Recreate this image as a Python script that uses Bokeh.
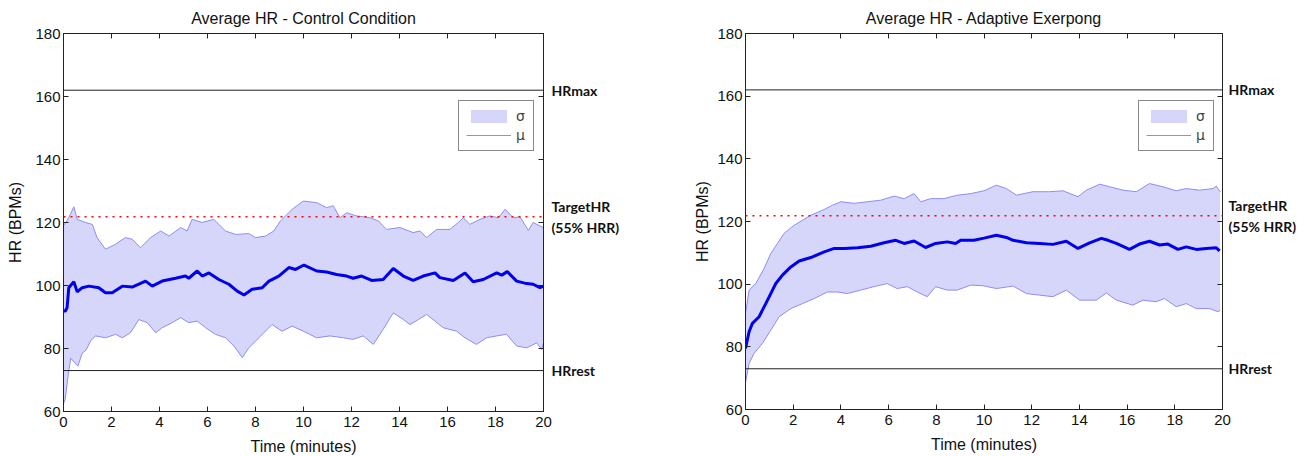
from bokeh.plotting import figure
from bokeh.layouts import row
from bokeh.models import (Range1d, FixedTicker, LinearAxis, Span, Legend, LegendItem)
from bokeh.embed import file_html
from bokeh.resources import INLINE

# ---------------- data ----------------
TITLES = ["Average HR - Control Condition", "Average HR - Adaptive Exerpong"]
X_LABEL = "Time (minutes)"
Y_LABEL = "HR (BPMs)"
X_TICKS = [0, 2, 4, 6, 8, 10, 12, 14, 16, 18, 20]
Y_TICKS = [60, 80, 100, 120, 140, 160, 180]

HR_MAX = 162.0
HR_REST = 73.0
HR_TARGET = 121.8  # 55% HRR
REF_LABELS = {HR_MAX: "HRmax", HR_TARGET: "TargetHR\n(55% HRR)", HR_REST: "HRrest"}

# Control condition
L_MEAN_T = [0.0, 0.08, 0.15, 0.22, 0.43, 0.57, 0.78, 1.06, 1.47, 1.75, 2.03, 2.45, 2.86, 3.42, 3.7,
            4.11, 4.67, 5.08, 5.22, 5.57, 5.78, 6.06, 6.47, 6.89, 7.24, 7.52, 7.86, 8.28, 8.56, 8.97,
            9.39, 9.67, 10.02, 10.55, 10.96, 11.38, 11.8, 12.07, 12.42, 12.84, 13.32, 13.74, 14.16,
            14.57, 14.99, 15.48, 15.68, 16.24, 16.73, 17.07, 17.49, 18.05, 18.26, 18.49, 18.88, 19.3,
            19.57, 19.85, 20.0]
L_MEAN = [91.9, 91.9, 93.0, 99.3, 101.2, 98.0, 99.3, 99.8, 99.3, 97.7, 97.7, 99.8, 99.5, 101.4, 99.8,
          101.4, 102.3, 103.0, 102.3, 104.6, 103.0, 104.0, 101.9, 100.4, 98.2, 97.0, 98.8, 99.3, 101.4,
          103.0, 105.7, 105.1, 106.5, 104.6, 104.3, 103.5, 103.0, 102.3, 103.0, 101.6, 101.9, 105.4,
          103.0, 101.6, 103.0, 104.0, 102.5, 101.6, 104.0, 101.2, 101.9, 104.0, 103.3, 104.4, 101.4,
          100.6, 100.4, 99.3, 99.8]
L_UP_T = [0.0, 0.22, 0.43, 0.57, 0.92, 1.2, 1.4, 1.75, 2.17, 2.58, 2.86, 3.21, 3.63, 4.05, 4.4, 4.88,
          5.15, 5.36, 5.78, 6.26, 6.75, 7.17, 7.72, 8.0, 8.42, 8.76, 9.04, 9.53, 9.99, 10.55, 10.96,
          11.24, 11.52, 11.8, 12.21, 12.77, 13.12, 13.46, 14.02, 14.57, 14.85, 15.13, 15.55, 16.1,
          16.45, 16.66, 16.93, 17.35, 17.77, 18.12, 18.4, 18.74, 19.02, 19.37, 19.57, 19.85, 20.0]
L_UP = [119.0, 121.5, 125.0, 121.0, 120.0, 119.4, 115.2, 111.5, 113.1, 115.2, 114.7, 112.0, 115.2,
        117.3, 115.7, 118.4, 117.3, 121.0, 120.0, 121.0, 117.3, 116.2, 116.5, 115.2, 115.7, 117.3,
        120.5, 124.2, 126.8, 126.3, 124.7, 125.3, 121.5, 123.1, 122.1, 121.5, 120.5, 117.8, 118.4,
        116.8, 117.3, 115.2, 117.8, 117.8, 120.0, 121.5, 119.4, 121.0, 122.1, 121.5, 124.2, 121.5,
        121.8, 117.5, 120.0, 118.9, 118.4]
L_LO_T = [0.0, 0.07, 0.2, 0.3, 0.6, 0.78, 0.94, 1.13, 1.33, 1.75, 2.17, 2.45, 2.79, 3.14, 3.49, 3.84,
          4.11, 4.53, 4.88, 5.22, 5.57, 5.92, 6.33, 6.75, 7.1, 7.45, 7.72, 8.14, 8.69, 9.1, 9.53, 9.99,
          10.55, 11.1, 11.66, 12.07, 12.49, 12.91, 13.32, 13.74, 14.16, 14.44, 14.79, 15.13, 15.48,
          15.82, 16.38, 16.73, 17.21, 17.63, 18.05, 18.46, 18.88, 19.3, 19.72, 19.92, 20.0]
L_LO = [62.5, 63.8, 71.8, 76.9, 74.4, 78.5, 79.5, 82.4, 84.0, 83.4, 84.5, 83.4, 85.0, 89.2, 88.2, 85.0,
        86.6, 88.2, 89.8, 88.2, 88.7, 86.6, 84.5, 83.4, 80.8, 77.1, 80.2, 83.4, 87.6, 85.5, 87.1, 85.5,
        83.4, 84.0, 83.4, 82.9, 84.0, 81.3, 86.1, 91.3, 89.2, 87.6, 89.2, 90.8, 88.7, 86.6, 85.5, 83.4,
        81.3, 83.4, 84.0, 84.5, 80.8, 80.2, 81.8, 79.7, 81.8]

# Adaptive Exerpong
R_MEAN_T = [0.0, 0.15, 0.29, 0.57, 0.85, 1.06, 1.27, 1.55, 1.9, 2.25, 2.74, 3.3, 3.72, 4.14, 4.7, 5.25,
            5.81, 6.3, 6.65, 7.07, 7.55, 7.97, 8.46, 8.81, 9.02, 9.58, 10.0, 10.52, 10.94, 11.22,
            11.78, 12.33, 12.89, 13.45, 13.94, 14.43, 14.92, 15.2, 15.55, 16.1, 16.52, 16.94, 17.36,
            17.71, 18.13, 18.48, 18.9, 19.32, 19.74, 19.88]
R_MEAN = [79.5, 84.8, 87.5, 89.6, 93.8, 97.0, 100.2, 102.9, 105.5, 107.4, 108.5, 110.3, 111.4, 111.4,
          111.6, 112.1, 113.2, 114.0, 113.0, 113.8, 111.7, 113.0, 113.5, 113.0, 114.0, 114.0, 114.7,
          115.6, 114.9, 114.0, 113.2, 113.0, 112.7, 113.7, 111.4, 113.2, 114.6, 114.0, 113.0, 111.1,
          112.8, 113.7, 112.5, 112.8, 111.1, 111.9, 111.1, 111.4, 111.6, 110.6]
R_UP_T = [0.0, 0.15, 0.43, 0.78, 1.06, 1.34, 1.62, 2.04, 2.39, 2.74, 3.23, 3.65, 4.0, 4.56, 5.11, 5.67,
          6.23, 6.65, 7.07, 7.35, 7.76, 8.32, 8.88, 9.44, 10.0, 10.52, 10.94, 11.36, 12.05, 12.75,
          13.31, 13.94, 14.29, 14.85, 15.27, 15.83, 16.38, 16.94, 17.5, 18.06, 18.48, 19.04, 19.6,
          19.74, 19.9]
R_UP = [90.6, 98.1, 100.2, 105.0, 109.8, 113.0, 116.2, 118.8, 120.4, 122.0, 123.6, 125.2, 126.3, 125.8,
        126.3, 126.8, 128.1, 127.3, 128.9, 126.3, 127.3, 127.3, 128.4, 128.9, 129.8, 131.6, 130.5, 128.4,
        129.5, 129.5, 129.8, 127.9, 130.0, 131.9, 131.1, 130.0, 129.5, 132.1, 131.1, 129.8, 130.5, 130.0,
        130.5, 131.3, 129.5]
R_LO_T = [0.0, 0.15, 0.36, 0.71, 1.06, 1.41, 1.9, 2.39, 2.88, 3.43, 3.85, 4.27, 4.83, 5.38, 5.94, 6.36,
          6.79, 7.2, 7.62, 7.97, 8.46, 8.88, 9.44, 9.96, 10.52, 11.22, 11.78, 12.33, 12.89, 13.45, 14.01,
          14.71, 15.13, 15.55, 16.24, 16.66, 17.22, 17.57, 18.06, 18.48, 18.9, 19.46, 19.81, 19.9]
R_LO = [68.5, 74.7, 77.9, 81.1, 85.3, 89.6, 92.2, 93.8, 95.4, 97.5, 97.5, 97.0, 98.1, 99.2, 100.2, 98.6,
        99.2, 97.5, 96.0, 99.2, 98.1, 98.1, 99.7, 99.5, 98.6, 99.4, 97.0, 96.5, 96.0, 98.1, 94.9, 94.9,
        97.2, 94.9, 93.3, 94.9, 94.4, 95.4, 92.8, 93.8, 92.2, 92.2, 91.2, 91.7]

# ---------------- styles ----------------
FILL = "#d6d6fb"
EDGE = "#8c8cf6"
MEAN_C = "#0000ee"
FONT = "Liberation Sans"
LAB_FONT = "Lato"


def make_panel(title, mt, m, ut, u, lt, lo, border_left, border_right, border_top, border_bottom,
               fw, fh, leg_loc, lab_standoff, ylab_standoff):
    p = figure(frame_width=fw, frame_height=fh, min_border_left=border_left,
               min_border_right=border_right, min_border_top=border_top,
               min_border_bottom=border_bottom, x_range=Range1d(0, 20), y_range=Range1d(60, 180),
               output_backend="svg", toolbar_location=None, title=title)
    p.title.align = "center"
    p.title.text_font = FONT
    p.title.text_font_size = "16px"
    p.title.text_font_style = "normal"
    p.title.text_color = "#111111"
    p.title.standoff = 14
    p.grid.visible = False
    p.outline_line_color = "#222222"
    p.outline_line_width = 1
    p.outline_line_alpha = 1
    p.background_fill_color = "white"
    p.border_fill_color = "white"

    for ax in (p.xaxis[0], p.yaxis[0]):
        ax.major_tick_in = 5
        ax.major_tick_out = 0
        ax.minor_tick_line_color = None
        ax.axis_line_color = "#222222"
        ax.major_tick_line_color = "#222222"
        ax.major_label_text_font = FONT
        ax.major_label_text_font_size = "15px"
        ax.major_label_text_color = "#111111"
        ax.axis_label_text_font = FONT
        ax.axis_label_text_font_size = "16px"
        ax.axis_label_text_font_style = "normal"
        ax.axis_label_text_color = "#111111"
    p.xaxis[0].ticker = FixedTicker(ticks=X_TICKS)
    p.yaxis[0].ticker = FixedTicker(ticks=Y_TICKS)
    p.xaxis[0].axis_label = X_LABEL
    p.yaxis[0].axis_label = Y_LABEL
    p.xaxis[0].major_label_standoff = 5
    p.yaxis[0].major_label_standoff = 3
    p.xaxis[0].axis_label_standoff = 8
    p.yaxis[0].axis_label_standoff = ylab_standoff

    # box ticks on the right and top (no labels)
    for loc, ticks in (("right", Y_TICKS), ("above", X_TICKS)):
        ax = LinearAxis(ticker=FixedTicker(ticks=ticks), major_tick_in=5, major_tick_out=0,
                        minor_tick_line_color=None, major_label_text_font_size="0px",
                        major_label_standoff=0, axis_line_color="#222222",
                        major_tick_line_color="#222222")
        p.add_layout(ax, loc)

    # reference-level labels to the right of the frame
    ref_ax = LinearAxis(ticker=FixedTicker(ticks=list(REF_LABELS.keys())),
                        major_label_overrides=REF_LABELS, major_tick_in=0, major_tick_out=0,
                        minor_tick_line_color=None, axis_line_color=None,
                        major_tick_line_color=None, major_label_standoff=lab_standoff,
                        major_label_text_font=LAB_FONT, major_label_text_font_style="bold",
                        major_label_text_font_size="14px", major_label_text_color="#111111")
    p.add_layout(ref_ax, "right")

    band = p.patch(ut + lt[::-1], u + lo[::-1], fill_color=FILL, line_color=None)
    up_line = p.line(ut, u, line_color=EDGE, line_width=1)
    p.line(lt, lo, line_color=EDGE, line_width=1)
    p.line(mt, m, line_color=MEAN_C, line_width=3)

    p.add_layout(Span(location=HR_MAX, dimension="width", line_color="#222222", line_width=1))
    p.add_layout(Span(location=HR_REST, dimension="width", line_color="#222222", line_width=1))
    p.add_layout(Span(location=HR_TARGET, dimension="width", line_color="red", line_width=1.5,
                      line_dash="2 5"))

    legend = Legend(items=[LegendItem(label="σ", renderers=[band]),
                           LegendItem(label="μ", renderers=[up_line])],
                    location=leg_loc, padding=7, spacing=3, margin=0, glyph_width=45,
                    glyph_height=16, label_height=16, label_width=10, label_standoff=5,
                    border_line_color="#111111", border_line_width=1,
                    background_fill_color="white", background_fill_alpha=1,
                    label_text_font="DejaVu Sans", label_text_font_size="14px")
    p.add_layout(legend, "center")
    return p


p1 = make_panel(TITLES[0], L_MEAN_T, L_MEAN, L_UP_T, L_UP, L_LO_T, L_LO,
                63, 97, 28, 36, 480, 378, (395, 260), 8, 8)
p2 = make_panel(TITLES[1], R_MEAN_T, R_MEAN, R_UP_T, R_UP, R_LO_T, R_LO,
                105, 66, 32, 34, 477, 376, (393, 258), 6, 3)

layout = row(p1, p2)
open("out.html", "w").write(file_html(layout, INLINE))
